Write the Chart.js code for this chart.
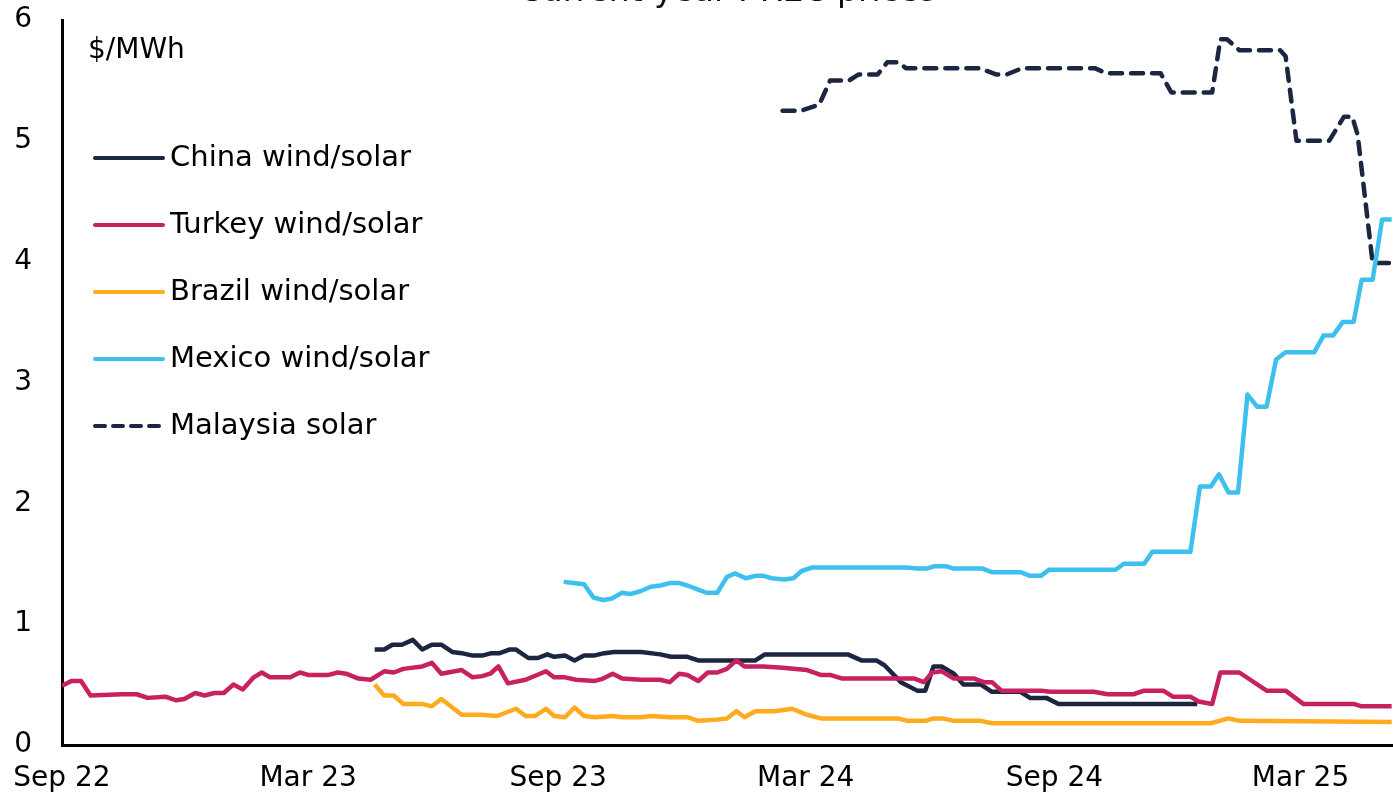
<!DOCTYPE html>
<html>
<head>
<meta charset="utf-8">
<script src="https://cdn.jsdelivr.net/npm/chart.js@4.4.1/dist/chart.umd.min.js"></script>
<style>
  html, body { margin: 0; padding: 0; background: #fff; overflow: hidden; }
  #wrap { position: absolute; left: 0; top: -27px; width: 1393px; height: 830px; }
</style>
</head>
<body>
<div id="wrap"><canvas id="myChart" width="1393" height="830"></canvas></div>
<script>
// x values are days since 1 Sep 2022
const tickDays = [0, 181, 365, 547, 730, 911];
const tickLabels = ["Sep 22", "Mar 23", "Sep 23", "Mar 24", "Sep 24", "Mar 25"];
const lastDay = 979;

const chinaDays = [230, 237, 243, 250, 258, 265, 272, 279, 287, 294, 302, 309, 316, 322, 329, 334, 343, 350, 357, 362, 370, 377, 384, 391, 399, 406, 426, 440, 448, 460, 468, 510, 517, 578, 588, 599, 605, 617, 629, 635, 641, 647, 656, 663, 676, 684, 705, 712, 724, 733, 835];
const chinaPrices = [0.79, 0.79, 0.83, 0.83, 0.87, 0.79, 0.83, 0.83, 0.77, 0.76, 0.74, 0.74, 0.76, 0.76, 0.79, 0.79, 0.72, 0.72, 0.75, 0.73, 0.74, 0.70, 0.74, 0.74, 0.76, 0.77, 0.77, 0.75, 0.73, 0.73, 0.70, 0.70, 0.75, 0.75, 0.70, 0.70, 0.66, 0.52, 0.45, 0.45, 0.65, 0.65, 0.59, 0.50, 0.50, 0.44, 0.44, 0.39, 0.39, 0.34, 0.34];

const turkeyDays = [0, 7, 14, 21, 44, 55, 63, 76, 84, 90, 98, 105, 112, 119, 126, 133, 141, 147, 153, 168, 175, 181, 196, 203, 209, 218, 227, 237, 244, 251, 265, 272, 279, 294, 302, 309, 315, 321, 328, 341, 356, 362, 370, 378, 392, 398, 405, 412, 426, 440, 447, 454, 460, 468, 475, 482, 489, 496, 502, 516, 530, 548, 558, 565, 574, 627, 634, 640, 647, 656, 671, 678, 684, 691, 720, 727, 759, 769, 788, 796, 810, 817, 830, 836, 846, 852, 866, 886, 900, 913, 950, 956, 978];
const turkeyPrices = [0.49, 0.53, 0.53, 0.41, 0.42, 0.42, 0.39, 0.40, 0.37, 0.38, 0.43, 0.41, 0.43, 0.43, 0.50, 0.46, 0.56, 0.60, 0.56, 0.56, 0.60, 0.58, 0.58, 0.60, 0.59, 0.55, 0.54, 0.61, 0.60, 0.63, 0.65, 0.68, 0.59, 0.62, 0.56, 0.57, 0.59, 0.65, 0.51, 0.54, 0.61, 0.56, 0.56, 0.54, 0.53, 0.55, 0.59, 0.55, 0.54, 0.54, 0.52, 0.59, 0.58, 0.53, 0.60, 0.60, 0.63, 0.70, 0.65, 0.65, 0.64, 0.62, 0.58, 0.58, 0.55, 0.55, 0.52, 0.60, 0.61, 0.55, 0.55, 0.52, 0.52, 0.45, 0.45, 0.44, 0.44, 0.42, 0.42, 0.45, 0.45, 0.40, 0.40, 0.36, 0.34, 0.60, 0.60, 0.45, 0.45, 0.34, 0.34, 0.32, 0.32];

const brazilDays = [230, 237, 244, 251, 265, 272, 279, 294, 308, 320, 334, 341, 348, 356, 362, 370, 377, 384, 392, 405, 412, 426, 433, 447, 460, 468, 482, 489, 496, 502, 510, 524, 537, 548, 558, 615, 622, 635, 641, 648, 656, 676, 684, 845, 858, 866, 978];
const brazilPrices = [0.50, 0.41, 0.41, 0.34, 0.34, 0.32, 0.38, 0.25, 0.25, 0.24, 0.30, 0.24, 0.24, 0.30, 0.24, 0.23, 0.31, 0.24, 0.23, 0.24, 0.23, 0.23, 0.24, 0.23, 0.23, 0.20, 0.21, 0.22, 0.28, 0.23, 0.28, 0.28, 0.30, 0.25, 0.22, 0.22, 0.20, 0.20, 0.22, 0.22, 0.20, 0.20, 0.18, 0.18, 0.22, 0.20, 0.19];

const mexicoDays = [369, 376, 384, 391, 398, 404, 412, 418, 425, 433, 440, 447, 454, 460, 467, 474, 482, 489, 495, 503, 510, 516, 522, 531, 538, 544, 552, 620, 629, 636, 642, 650, 656, 677, 684, 705, 712, 720, 726, 775, 781, 796, 802, 830, 837, 845, 851, 858, 865, 872, 879, 886, 893, 900, 921, 928, 935, 942, 950, 956, 964, 971, 978];
const mexicoPrices = [1.35, 1.34, 1.33, 1.22, 1.20, 1.21, 1.26, 1.25, 1.27, 1.31, 1.32, 1.34, 1.34, 1.32, 1.29, 1.26, 1.26, 1.39, 1.42, 1.38, 1.40, 1.40, 1.38, 1.37, 1.38, 1.44, 1.47, 1.47, 1.46, 1.46, 1.48, 1.48, 1.46, 1.46, 1.43, 1.43, 1.40, 1.40, 1.45, 1.45, 1.50, 1.50, 1.60, 1.60, 2.14, 2.14, 2.24, 2.09, 2.09, 2.90, 2.80, 2.80, 3.19, 3.25, 3.25, 3.39, 3.39, 3.50, 3.50, 3.85, 3.85, 4.35, 4.35];

const malaysiaDays = [530, 544, 557, 565, 579, 586, 600, 607, 615, 621, 675, 687, 695, 706, 760, 768, 808, 816, 846, 852, 857, 866, 896, 900, 908, 932, 943, 949, 953, 964, 979];
const malaysiaPrices = [5.25, 5.25, 5.30, 5.50, 5.50, 5.55, 5.55, 5.65, 5.65, 5.60, 5.60, 5.55, 5.55, 5.60, 5.60, 5.56, 5.56, 5.40, 5.40, 5.84, 5.84, 5.75, 5.75, 5.70, 5.00, 5.00, 5.20, 5.20, 5.05, 3.99, 3.99];

const FONT = '"DejaVu Sans", Verdana, sans-serif';

function toPoints(days, prices) {
  return days.map((d, i) => ({ x: d, y: prices[i] }));
}

function makeSet(label, days, prices, color, order, dash) {
  return {
    label: label,
    data: toPoints(days, prices),
    borderColor: color,
    backgroundColor: color,
    borderWidth: 4.5,
    borderDash: dash || [],
    borderCapStyle: dash ? "round" : "butt",
    borderJoinStyle: "round",
    pointRadius: 0,
    tension: 0,
    order: order
  };
}

// legend drawn inside the plot area, like the original
const insideLegend = {
  id: "insideLegend",
  afterDraw(chart) {
    const ctx = chart.ctx;
    const area = chart.chartArea;
    ctx.save();
    ctx.fillStyle = "#000";
    ctx.textBaseline = "middle";
    ctx.textAlign = "left";
    ctx.font = "28px " + FONT;
    ctx.fillText("$/MWh", area.left + 26, area.top + 31);
    ctx.font = "29px " + FONT;
    chart.data.datasets.forEach((ds, i) => {
      const y = area.top + 138 + i * 67;
      ctx.strokeStyle = ds.borderColor;
      ctx.lineWidth = 4;
      ctx.lineCap = "round";
      ctx.setLineDash(ds.borderDash.length ? [10, 8] : []);
      ctx.beginPath();
      ctx.moveTo(area.left + 33, y);
      ctx.lineTo(area.left + 101, y);
      ctx.stroke();
      ctx.setLineDash([]);
      ctx.fillText(ds.label, area.left + 108, y);
    });
    ctx.restore();
  }
};

const ctx = document.getElementById("myChart").getContext("2d");
new Chart(ctx, {
  type: "line",
  data: {
    datasets: [
      makeSet("China wind/solar", chinaDays, chinaPrices, "#1c2541", 3),
      makeSet("Turkey wind/solar", turkeyDays, turkeyPrices, "#c8215f", 2),
      makeSet("Brazil wind/solar", brazilDays, brazilPrices, "#ffab1f", 4),
      makeSet("Mexico wind/solar", mexicoDays, mexicoPrices, "#3ec0ef", 1),
      makeSet("Malaysia solar", malaysiaDays, malaysiaPrices, "#1c2541", 5, [12, 9])
    ]
  },
  options: {
    responsive: false,
    animation: false,
    layout: { padding: 0 },
    scales: {
      x: {
        type: "linear",
        min: 0,
        max: lastDay,
        // tick marks are hidden, their length only pushes the labels down
        grid: { display: false, drawTicks: true, tickLength: 13 },
        border: { display: true, color: "#000", width: 3 },
        afterBuildTicks: (scale) => {
          scale.ticks = tickDays.map(v => ({ value: v }));
        },
        afterFit: (scale) => { scale.height = 58; },
        ticks: {
          autoSkip: false,
          maxRotation: 0,
          minRotation: 0,
          padding: 4,
          color: "#000",
          font: { size: 28, family: FONT },
          callback: (value, index) => tickLabels[index]
        }
      },
      y: {
        min: 0,
        max: 6,
        grid: { display: false, drawTicks: false },
        border: { display: true, color: "#000", width: 3 },
        afterFit: (scale) => { scale.width = 62; },
        ticks: {
          stepSize: 1,
          padding: 30,
          color: "#000",
          font: { size: 28, family: FONT }
        }
      }
    },
    plugins: {
      legend: { display: false },
      tooltip: { enabled: false },
      title: {
        display: true,
        fullSize: false,
        text: "Current-year I-REC prices",
        color: "#111",
        font: { size: 33, weight: "normal", family: FONT, lineHeight: 1.2 },
        padding: { top: 0, bottom: 7.4 }
      }
    }
  },
  plugins: [insideLegend]
});
</script>
</body>
</html>
